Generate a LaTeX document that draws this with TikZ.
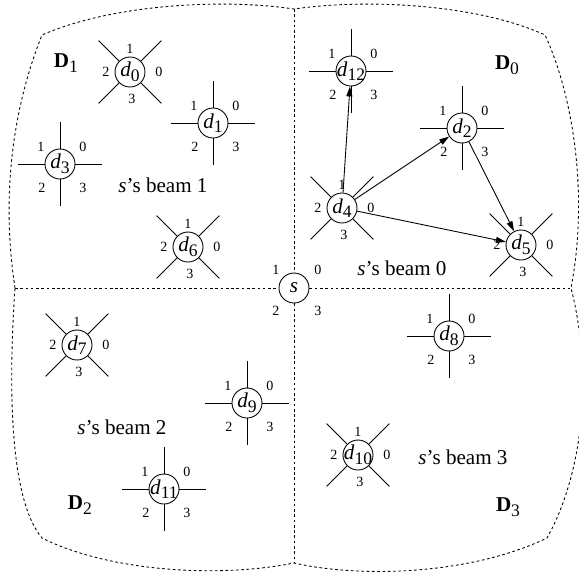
\documentclass[tikz,border=0pt]{standalone}
\usepackage{fontspec}
\setmainfont{Liberation Serif}
\usetikzlibrary{arrows.meta}

% large lowered index, as in the drawing
\newcommand\idx[1]{\raisebox{-2.6pt}{\fontsize{10}{10}\selectfont #1}}
% device label d_i, kept narrow so every circle has the same size
\newcommand\nd[1]{\makebox[0pt]{\textit{d}\idx{#1}}}

% device with diagonal antennas
\newcommand\crossdev[3]{%
  \node[dev] (#1) at (#2) {\nd{#3}};
  \foreach \a in {45,135,225,315} \draw[ant] (#1.\a) -- ++(\a:0.58);
  \node[port, yshift=0.46cm] (#1-1) at (#1) {1};
  \node[port, xshift=0.58cm] (#1-0) at (#1) {0};
  \node[port, xshift=-0.48cm] (#1-2) at (#1) {2};
  \node[port, xshift=0.04cm, yshift=-0.54cm] (#1-3) at (#1) {3};
}

% device with straight antennas
\newcommand\plusdev[3]{%
  \node[dev] (#1) at (#2) {\nd{#3}};
  \foreach \a in {0,90,180,270} \draw[ant] (#1.\a) -- ++(\a:0.53);
  \node[port, xshift=-0.38cm, yshift=0.34cm] (#1-1) at (#1) {1};
  \node[port, xshift=0.46cm, yshift=0.34cm] (#1-0) at (#1) {0};
  \node[port, xshift=-0.36cm, yshift=-0.48cm] (#1-2) at (#1) {2};
  \node[port, xshift=0.46cm, yshift=-0.48cm] (#1-3) at (#1) {3};
}

\begin{document}
\begin{tikzpicture}[
    dev/.style={circle, draw, line width=0.5pt, minimum size=0.6cm, inner sep=0pt,
      font=\fontsize{12}{14}\selectfont},
    port/.style={inner sep=0pt, font=\fontsize{8}{9}\selectfont},
    ant/.style={line width=0.5pt},
    arr/.style={-{Triangle[length=2mm,width=1.2mm]}, line width=0.5pt},
    sector/.style={dash pattern=on 1.5pt off 1.5pt, line width=0.5pt},
    txt/.style={inner sep=0pt, font=\fontsize{12}{14}\selectfont}
  ]
  \useasboundingbox (0,0) rectangle (11.58,-11.54);

  % sector outline
  \coordinate (top) at (5.88,-0.18);
  \coordinate (bot) at (5.88,-11.26);
  \coordinate (lft) at (0.30,-5.76);
  \coordinate (rgt) at (11.42,-5.76);
  \coordinate (tl) at (0.84,-0.70);
  \coordinate (tr) at (10.90,-0.70);
  \coordinate (bl) at (0.84,-10.76);
  \coordinate (br) at (10.94,-10.76);
  \draw[sector] (lft) .. controls (0.06,-4.20) and (0.16,-2.40) .. (tl)
    .. controls (2.20,-0.10) and (4.40,0.04) .. (top)
    .. controls (7.40,0.04) and (9.60,-0.10) .. (tr)
    .. controls (11.50,-2.00) and (11.76,-4.00) .. (rgt)
    .. controls (11.84,-7.40) and (11.70,-9.40) .. (br)
    .. controls (9.40,-11.50) and (7.20,-11.56) .. (bot)
    .. controls (4.40,-11.56) and (2.20,-11.44) .. (bl)
    .. controls (0.20,-10.00) and (0.16,-7.80) .. (lft);

  % source and beam borders
  \node[dev] (s) at (5.88,-5.76) {\textit{s}};
  \node[port, xshift=-0.36cm, yshift=0.36cm] (s-1) at (s) {1};
  \node[port, xshift=0.48cm, yshift=0.36cm] (s-0) at (s) {0};
  \node[port, xshift=-0.36cm, yshift=-0.46cm] (s-2) at (s) {2};
  \node[port, xshift=0.48cm, yshift=-0.46cm] (s-3) at (s) {3};
  \draw[sector] (top) -- (s); \draw[sector] (s) -- (bot);
  \draw[sector] (lft) -- (s); \draw[sector] (s) -- (rgt);

  % D_1
  \crossdev{d0}{2.60,-1.44}{0}
  \plusdev{d1}{4.26,-2.46}{1}
  \plusdev{d3}{1.20,-3.28}{3}
  \crossdev{d6}{3.76,-4.94}{6}
  % D_0
  \plusdev{d12}{7.02,-1.42}{12}
  \plusdev{d2}{9.24,-2.56}{2}
  \crossdev{d4}{6.84,-4.16}{4}
  \crossdev{d5}{10.42,-4.90}{5}
  % D_2
  \crossdev{d7}{1.54,-6.90}{7}
  \plusdev{d9}{4.94,-8.06}{9}
  \plusdev{d11}{3.28,-9.78}{11}
  % D_3
  \plusdev{d8}{8.98,-6.72}{8}
  \crossdev{d10}{7.16,-9.10}{10}

  \draw[arr] (d4) -- (d12);
  \draw[arr] (d4) -- (d2);
  \draw[arr] (d4) -- (d5);
  \draw[arr] (d2) -- (d5);

  \node[txt] (D1) at (1.32,-1.26) {\textbf{D}\idx{1}};
  \node[txt] (D0) at (10.14,-1.30) {\textbf{D}\idx{0}};
  \node[txt] (D2) at (1.60,-10.10) {\textbf{D}\idx{2}};
  \node[txt] (D3) at (10.16,-10.14) {\textbf{D}\idx{3}};

  \node[txt] (beam1) at (3.26,-3.70) {\textit{s}'s beam 1};
  \node[txt] (beam0) at (8.04,-5.36) {\textit{s}'s beam 0};
  \node[txt] (beam2) at (2.44,-8.54) {\textit{s}'s beam 2};
  \node[txt] (beam3) at (9.26,-9.14) {\textit{s}'s beam 3};
\end{tikzpicture}
\end{document}
